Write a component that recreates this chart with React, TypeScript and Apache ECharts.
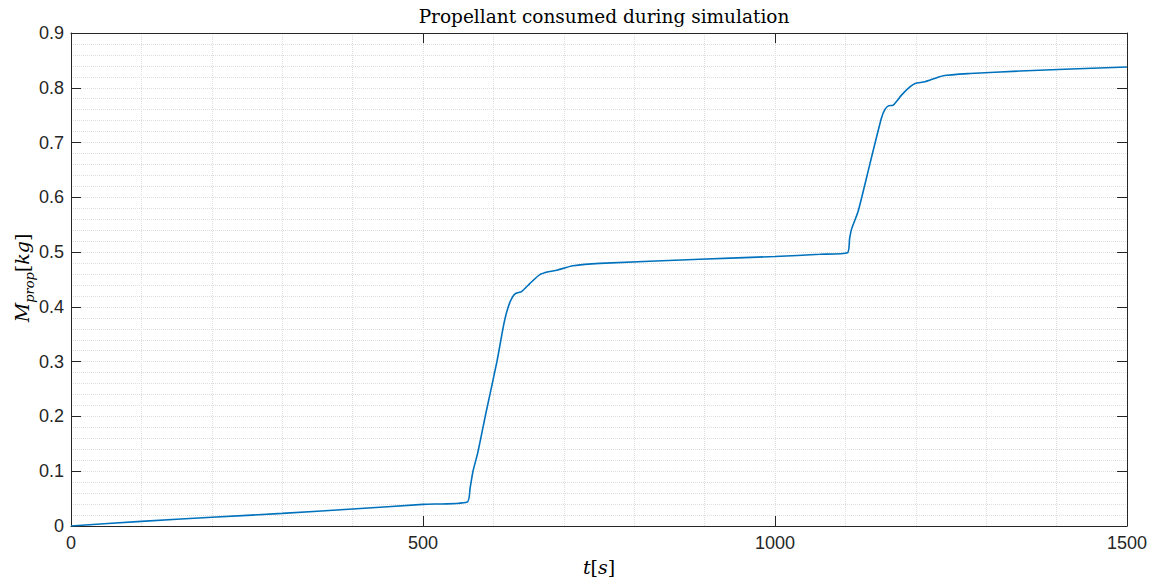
import React, { useEffect, useRef } from "react";
import * as echarts from "echarts";

const timeS: number[] = [0, 100, 200, 300, 400, 500, 563, 567, 571, 578, 590, 605, 615, 621, 627, 632, 640, 652, 666, 678, 690, 713, 751, 893, 1000, 1064, 1103, 1106, 1109, 1118, 1135, 1151, 1156, 1161, 1168, 1180, 1192, 1199, 1213, 1239, 1277, 1348, 1500];
const massKg: number[] = [0, 0.0085, 0.016, 0.023, 0.031, 0.0395, 0.044, 0.07, 0.1, 0.135, 0.21, 0.3, 0.37, 0.4, 0.418, 0.425, 0.428, 0.443, 0.459, 0.464, 0.467, 0.475, 0.4795, 0.487, 0.492, 0.496, 0.499, 0.525, 0.543, 0.574, 0.662, 0.744, 0.76, 0.767, 0.7685, 0.787, 0.802, 0.808, 0.811, 0.822, 0.826, 0.8306, 0.838];

const titleText = "Propellant consumed during simulation";

export default function App() {
  const ref = useRef<HTMLDivElement>(null);
  useEffect(() => {
    if (!ref.current) return;
    const chart = echarts.init(ref.current, undefined, { renderer: "svg" });
    const axisColor = "#262626";
    const gridColor = "#dedede";
    const labelFont = { fontFamily: "Liberation Sans, Arial, sans-serif", fontSize: 18, color: axisColor };
    chart.setOption({
      animation: false,
      backgroundColor: "#ffffff",
      title: {
        text: titleText,
        left: 599,
        textAlign: "center",
        top: 2,
        textStyle: { fontFamily: "DejaVu Serif", fontWeight: "normal", fontSize: 18.5, color: "#000" },
      },
      grid: { left: 71, right: 30, top: 33, bottom: 55, containLabel: false },
      xAxis: [
        {
          type: "value",
          min: 0,
          max: 1500,
          interval: 500,
          axisLine: { show: true, lineStyle: { color: axisColor, width: 1 } },
          axisTick: { show: true, inside: true, length: 10, lineStyle: { color: axisColor } },
          axisLabel: { ...labelFont, margin: 8, formatter: (v: number) => String(v) },
          splitLine: { show: true, lineStyle: { color: gridColor, type: "dotted", width: 1 } },
          minorTick: { show: false, splitNumber: 5 },
          minorSplitLine: { show: true, lineStyle: { color: gridColor, type: "dotted", width: 1 } },
        },
        {
          type: "value",
          position: "top",
          min: 0,
          max: 1500,
          interval: 500,
          axisLine: { show: true, onZero: false, lineStyle: { color: axisColor, width: 1 } },
          axisTick: { show: true, inside: true, length: 10, lineStyle: { color: axisColor } },
          axisLabel: { show: false },
          splitLine: { show: false },
        },
      ],
      yAxis: [
        {
          type: "value",
          min: 0,
          max: 0.9,
          interval: 0.1,
          axisLine: { show: true, lineStyle: { color: axisColor, width: 1 } },
          axisTick: { show: true, inside: true, length: 10, lineStyle: { color: axisColor } },
          axisLabel: { ...labelFont, margin: 7, formatter: (v: number) => (v === 0 ? "0" : String(Math.round(v * 10) / 10)) },
          splitLine: { show: true, lineStyle: { color: gridColor, type: "dotted", width: 1 } },
          minorTick: { show: false, splitNumber: 5 },
          minorSplitLine: { show: true, lineStyle: { color: gridColor, type: "dotted", width: 1 } },
        },
        {
          type: "value",
          position: "right",
          min: 0,
          max: 0.9,
          interval: 0.1,
          axisLine: { show: true, onZero: false, lineStyle: { color: axisColor, width: 1 } },
          axisTick: { show: true, inside: true, length: 10, lineStyle: { color: axisColor } },
          axisLabel: { show: false },
          splitLine: { show: false },
        },
      ],
      graphic: [
        {
          type: "text",
          x: 599,
          y: 567,
          style: {
            text: "{i|t}{r|[}{i|s}{r|]}",
            align: "center",
            verticalAlign: "middle",
            rich: {
              i: { fontFamily: "DejaVu Serif", fontStyle: "italic", fontSize: 19, fill: "#000" },
              r: { fontFamily: "DejaVu Serif", fontSize: 19, fill: "#000" },
            },
          },
        },
        {
          type: "text",
          x: 22,
          y: 278,
          rotation: Math.PI / 2,
          style: {
            text: "{i|M}{sub|prop}{r|[}{i|kg}{r|]}",
            align: "center",
            verticalAlign: "middle",
            rich: {
              i: { fontFamily: "DejaVu Serif", fontStyle: "italic", fontSize: 19, fill: "#000", verticalAlign: "bottom" },
              sub: { fontFamily: "DejaVu Serif", fontStyle: "italic", fontSize: 13, fill: "#000", verticalAlign: "bottom", padding: [0, 0, -4, 0] },
              r: { fontFamily: "DejaVu Serif", fontSize: 19, fill: "#000", verticalAlign: "bottom" },
            },
          },
        },
      ],
      series: [
        {
          type: "line",
          data: timeS.map((t, i) => [t, massKg[i]]),
          showSymbol: false,
          smooth: 0.2,
          lineStyle: { color: "#0072BD", width: 1.6 },
          xAxisIndex: 0,
          yAxisIndex: 0,
        },
      ],
    });
    return () => chart.dispose();
  }, []);
  return <div ref={ref} style={{ width: 1157, height: 581, position: "absolute", left: 0, top: 0 }} />;
}
